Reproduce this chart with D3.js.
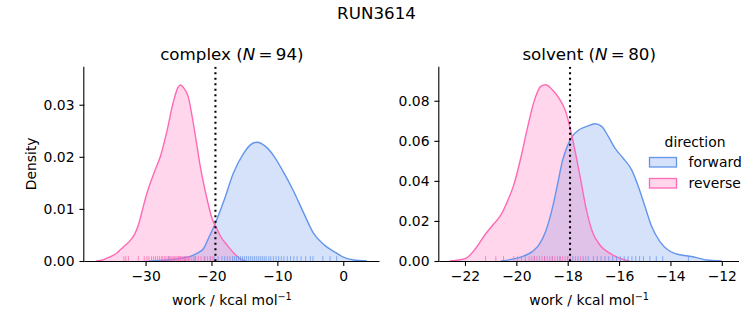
<!DOCTYPE html>
<html>
<head>
<meta charset="utf-8">
<script src="https://cdn.jsdelivr.net/npm/d3@7"></script>
<style>
  html, body { margin: 0; padding: 0; background: #fff; }
  svg { display: block; font-family: "DejaVu Sans", sans-serif; }
</style>
</head>
<body>
<svg id="chart" width="753" height="325"></svg>
<script>
// ---------- data ----------
const suptitle = "RUN3614";
const panels = ["complex", "solvent"];
const panelN = [94, 80];
const directions = ["forward", "reverse"];

// KDE curves: [work, density]
const complexForward = [[-29.5,0],[-28,0.0001],[-26,0.0003],[-24.7,0.0005],[-23,0.0010],[-22,0.0016],[-21.2,0.0024],[-20.4,0.0045],[-19.4,0.0073],[-18.1,0.0116],[-16.7,0.0168],[-15.1,0.0207],[-14.1,0.0223],[-13.1,0.0228],[-11.8,0.0220],[-10.5,0.0201],[-9.0,0.0169],[-7.5,0.0133],[-6.0,0.0092],[-4.5,0.0053],[-2.9,0.0031],[-1.4,0.0018],[0.1,0.0007],[1.6,0.0002],[3.6,0]];
const complexReverse = [[-37.5,0],[-36.9,0.0001],[-35.4,0.0008],[-34.3,0.0016],[-33.8,0.0022],[-33.0,0.0031],[-32.3,0.0040],[-31.6,0.0053],[-31.0,0.0073],[-30.5,0.0097],[-29.8,0.0130],[-28.6,0.0173],[-27.8,0.0199],[-26.8,0.0247],[-25.8,0.0305],[-25.1,0.0333],[-24.7,0.0338],[-24.2,0.0332],[-23.5,0.0314],[-22.9,0.0275],[-22.3,0.0229],[-21.8,0.0189],[-20.8,0.0126],[-19.9,0.0081],[-19.1,0.0060],[-18.6,0.0047],[-17.6,0.0030],[-16.6,0.0015],[-15.6,0.0004],[-14.8,0]];
const solventForward = [[-20.6,0],[-20.2,0.0008],[-19.77,0.0022],[-19.38,0.0047],[-19.12,0.0080],[-18.86,0.0147],[-18.6,0.0263],[-18.4,0.0380],[-18.21,0.0497],[-18.02,0.0572],[-17.82,0.0622],[-17.56,0.0655],[-17.26,0.0672],[-16.94,0.0685],[-16.68,0.0672],[-16.42,0.0622],[-16.16,0.0563],[-15.84,0.0513],[-15.51,0.0455],[-15.25,0.0372],[-14.99,0.0272],[-14.73,0.0172],[-14.41,0.0097],[-14.09,0.0055],[-13.76,0.0035],[-13.31,0.0025],[-12.98,0.0017],[-12.59,0.0005],[-12.0,0]];
const solventReverse = [[-22.6,0],[-22.2,0.0006],[-21.95,0.0014],[-21.6,0.0060],[-21.2,0.0135],[-20.9,0.0182],[-20.6,0.0230],[-20.35,0.0297],[-20.1,0.0380],[-19.83,0.0513],[-19.57,0.0663],[-19.31,0.0797],[-19.05,0.0872],[-18.86,0.0880],[-18.6,0.0855],[-18.34,0.0813],[-18.08,0.0747],[-17.88,0.0650],[-17.69,0.0535],[-17.5,0.0410],[-17.28,0.0260],[-17.05,0.0150],[-16.75,0.0080],[-16.35,0.0038],[-15.96,0.0013],[-15.6,0]];

// rug samples (work values)
const complexForwardRug = [-26.5,-24.0,-22.5,-21.0,-20.2,-19.6,-19.0,-18.4,-18.0,-17.6,-17.2,-16.8,-16.5,-16.2,-15.9,-15.6,-15.3,-15.0,-14.7,-14.4,-14.1,-13.8,-13.5,-13.2,-12.9,-12.6,-12.3,-12.0,-11.7,-11.3,-11.0,-10.6,-10.2,-9.8,-9.4,-9.0,-8.5,-8.0,-7.5,-7.0,-6.4,-5.7,-5.0,-4.6,-3.1,-2.0,-1.0];
const complexReverseRug = [-33.3,-33.0,-32.6,-31.1,-30.2,-29.8,-29.5,-29.1,-28.8,-28.5,-28.2,-27.9,-27.6,-27.4,-27.1,-26.9,-26.6,-26.4,-26.2,-26.0,-25.8,-25.6,-25.4,-25.2,-25.0,-24.9,-24.7,-24.5,-24.3,-24.1,-23.9,-23.7,-23.5,-23.3,-23.0,-22.7,-22.4,-22.0,-21.6,-21.1,-20.6,-20.1,-19.8];
const solventForwardRug = [-19.3,-18.9,-18.6,-18.3,-18.0,-17.8,-17.6,-17.4,-17.2,-17.0,-16.85,-16.7,-16.55,-16.4,-16.25,-16.1,-15.95,-15.8,-15.65,-15.5,-15.35,-15.2,-15.05,-14.8,-14.55,-14.3,-13.3];
const solventReverseRug = [-21.2,-20.8,-20.5,-20.1,-19.95,-19.8,-19.65,-19.5,-19.4,-19.3,-19.2,-19.1,-19.0,-18.9,-18.8,-18.7,-18.6,-18.5,-18.4,-18.3,-18.2,-18.1,-18.0,-17.9,-17.7,-17.5,-17.3];

// estimated free energy (dotted line)
const estimate = [-19.4, -17.91];

// axis domains and ticks
const xDomains = [[-39.3, 5.5], [-23.0, -11.33]];
const yDomains = [[0, 0.0373], [0, 0.097]];
const xTicks = [[-30, -20, -10, 0], [-22, -20, -18, -16, -14, -12]];
const yTicks = [[0, 0.01, 0.02, 0.03], [0, 0.02, 0.04, 0.06, 0.08]];

// ---------- drawing ----------
const colors = { forward: "#6495ED", reverse: "#FF69B4" };
const curves = [[complexForward, complexReverse], [solventForward, solventReverse]];
const rugs = [[complexForwardRug, complexReverseRug], [solventForwardRug, solventReverseRug]];

const svg = d3.select("#chart");
const fontSize = 13.9;
const titleSize = 16.7;
const layout = [
  { left: 84.3, right: 379.5, top: 66.7, bottom: 261 },
  { left: 439.3, right: 739, top: 66.7, bottom: 261 }
];

svg.append("text")
  .attr("x", 376.5).attr("y", 18.5)
  .attr("text-anchor", "middle")
  .attr("font-size", titleSize)
  .text(suptitle);

const minus = s => s.replace("-", "\u2212");

panels.forEach((name, i) => {
  const L = layout[i];
  const x = d3.scaleLinear().domain(xDomains[i]).range([L.left, L.right]);
  const y = d3.scaleLinear().domain(yDomains[i]).range([L.bottom, L.top]);
  const g = svg.append("g");

  const clipId = "clip" + i;
  svg.append("clipPath").attr("id", clipId)
    .append("rect").attr("x", L.left).attr("y", L.top)
    .attr("width", L.right - L.left).attr("height", L.bottom - L.top);

  const plot = g.append("g").attr("clip-path", `url(#${clipId})`);

  const area = d3.area().x(d => x(d[0])).y0(y(0)).y1(d => y(d[1])).curve(d3.curveMonotoneX);
  const line = d3.line().x(d => x(d[0])).y(d => y(d[1])).curve(d3.curveMonotoneX);

  directions.forEach((dir, k) => {
    plot.append("path").datum(curves[i][k])
      .attr("d", area)
      .attr("fill", colors[dir]).attr("fill-opacity", 0.27)
      .attr("stroke", "none");
  });
  directions.forEach((dir, k) => {
    plot.append("path").datum(curves[i][k])
      .attr("d", line)
      .attr("fill", "none")
      .attr("stroke", colors[dir]).attr("stroke-width", 1.4);
  });

  // rug
  const rugH = 0.025 * (L.bottom - L.top);
  directions.forEach((dir, k) => {
    plot.selectAll(null).data(rugs[i][k]).enter().append("line")
      .attr("x1", d => x(d)).attr("x2", d => x(d))
      .attr("y1", L.bottom).attr("y2", L.bottom - rugH)
      .attr("stroke", colors[dir]).attr("stroke-width", 1)
      .attr("stroke-opacity", 0.75);
  });

  // dotted estimate line
  plot.append("line")
    .attr("x1", x(estimate[i])).attr("x2", x(estimate[i]))
    .attr("y1", L.top).attr("y2", L.bottom)
    .attr("stroke", "#000").attr("stroke-width", 2.1)
    .attr("stroke-dasharray", "2.1,3.4");

  // axes
  const xAxis = d3.axisBottom(x).tickValues(xTicks[i]).tickSize(4.9).tickPadding(4.9)
    .tickFormat(d => minus(d3.format("d")(d)));
  const gx = g.append("g").attr("transform", `translate(0,${L.bottom})`).call(xAxis);
  gx.select(".domain").attr("d", `M${L.left},0.5H${L.right}`).attr("stroke-width", 1.1);
  gx.selectAll(".tick line").attr("stroke-width", 1.1);
  gx.selectAll("text").attr("font-size", fontSize).attr("font-family", "DejaVu Sans").attr("fill", "#000");

  const yAxis = d3.axisLeft(y).tickValues(yTicks[i]).tickSize(4.9).tickPadding(4.9)
    .tickFormat(d3.format(".2f"));
  const gy = g.append("g").attr("transform", `translate(${L.left},0)`).call(yAxis);
  gy.select(".domain").attr("d", `M-0.5,${L.top}V${L.bottom}`).attr("stroke-width", 1.1);
  gy.selectAll(".tick line").attr("stroke-width", 1.1);
  gy.selectAll("text").attr("font-size", fontSize).attr("font-family", "DejaVu Sans").attr("fill", "#000");

  // title with math-like N
  const cx = (L.left + L.right) / 2;
  const t = g.append("text").attr("x", cx).attr("y", 59.5)
    .attr("text-anchor", "middle").attr("font-size", titleSize);
  t.append("tspan").text(name + " (");
  t.append("tspan").attr("font-style", "italic").text("N");
  t.append("tspan").text("\u2009=\u2009" + panelN[i] + ")");

  // x label
  const xl = g.append("text").attr("x", cx).attr("y", 305)
    .attr("text-anchor", "middle").attr("font-size", fontSize);
  xl.append("tspan").text("work / kcal mol");
  xl.append("tspan").attr("dy", -5.5).attr("font-size", 9.7).text("\u22121");

  if (i === 0) {
    g.append("text")
      .attr("transform", `translate(35.5,${(L.top + L.bottom) / 2}) rotate(-90)`)
      .attr("text-anchor", "middle").attr("font-size", fontSize)
      .text("Density");
  }
});

// legend
const lg = svg.append("g");
lg.append("text").attr("x", 695).attr("y", 146.5)
  .attr("text-anchor", "middle").attr("font-size", fontSize).text("direction");
directions.forEach((dir, k) => {
  const yy = 157.5 + k * 21;
  lg.append("rect").attr("x", 649.5).attr("y", yy).attr("width", 27).attr("height", 9.5)
    .attr("fill", colors[dir]).attr("fill-opacity", 0.27)
    .attr("stroke", colors[dir]).attr("stroke-width", 1.3);
  lg.append("text").attr("x", 688.5).attr("y", yy + 9.5)
    .attr("font-size", fontSize).text(dir);
});
</script>
</body>
</html>
